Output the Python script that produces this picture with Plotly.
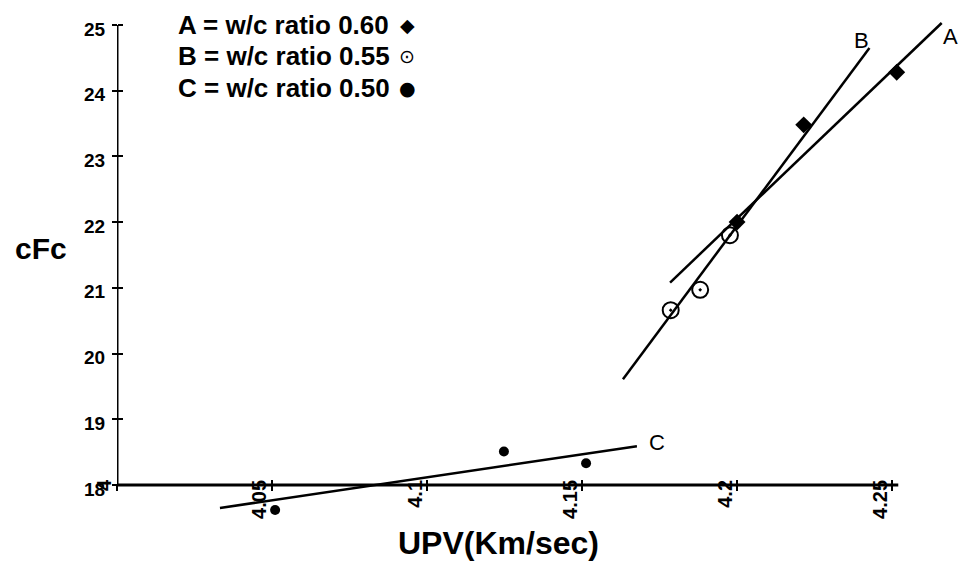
import plotly.graph_objects as go

# ---------------- data ----------------
A_x = [4.2000, 4.2215, 4.2515]
A_y = [22.00, 23.48, 24.28]
B_x = [4.1786, 4.1881, 4.1977]
B_y = [20.66, 20.97, 21.80]
C_x = [4.0510, 4.1248, 4.1513]
C_y = [17.62, 18.51, 18.33]

# hand-drawn fit lines (end points)
lineA_x = [4.1784, 4.2660]
lineA_y = [21.08, 25.03]
lineB_x = [4.1632, 4.2427]
lineB_y = [19.61, 24.65]
lineC_x = [4.0332, 4.1677]
lineC_y = [17.65, 18.59]

line_labels = ["A", "B", "C"]
line_label_x = [4.2687, 4.2402, 4.1742]
line_label_y = [24.82, 24.77, 18.65]

x_tick_vals = [4, 4.05, 4.1, 4.15, 4.2, 4.25]
x_tick_text = ["4", "4.05", "4.1", "4.15", "4.2", "4.25"]
y_tick_vals = [18, 19, 20, 21, 22, 23, 24, 25]
y_tick_text = ["18", "19", "20", "21", "22", "23", "24", "25"]

legend_text = ["A = w/c ratio 0.60", "B = w/c ratio 0.55", "C = w/c ratio 0.50"]
legend_symbols = ["\u25c6", "\u2299", "\u25cf"]

X_RANGE = [4.0, 4.2732]
Y_RANGE = [16.828, 25.380]
X_AXIS_AT = 18
X_AXIS_END = 4.252
Y_AXIS_TOP = 25

FONT = "Liberation Sans, Arial, sans-serif"

fig = go.Figure()

line_style = dict(color="black", width=2.5)
for lx, ly in [(lineA_x, lineA_y), (lineB_x, lineB_y), (lineC_x, lineC_y)]:
    fig.add_trace(go.Scatter(x=lx, y=ly, mode="lines", line=line_style,
                             showlegend=False, hoverinfo="skip"))

fig.add_trace(go.Scatter(x=A_x, y=A_y, mode="markers", showlegend=False,
                         marker=dict(symbol="diamond", size=13, color="black"),
                         cliponaxis=False))
fig.add_trace(go.Scatter(x=B_x, y=B_y, mode="markers", showlegend=False,
                         marker=dict(symbol="circle-open-dot", size=16, color="black",
                                     line=dict(width=2, color="black")),
                         cliponaxis=False))
fig.add_trace(go.Scatter(x=C_x, y=C_y, mode="markers", showlegend=False,
                         marker=dict(symbol="circle", size=10, color="black"),
                         cliponaxis=False))

# invisible trace to activate overlay axes (for crossing ticks)
fig.add_trace(go.Scatter(x=[], y=[], xaxis="x2", yaxis="y2", showlegend=False))

x_pos = (X_AXIS_AT - Y_RANGE[0]) / (Y_RANGE[1] - Y_RANGE[0])

fig.update_layout(
    width=964, height=562,
    margin=dict(l=117, r=0, t=0, b=0),
    paper_bgcolor="white", plot_bgcolor="white",
    xaxis=dict(range=X_RANGE, anchor="free", position=x_pos,
               showgrid=False, zeroline=False, showline=False,
               tickmode="array", tickvals=x_tick_vals, ticktext=x_tick_text,
               ticks="outside", ticklen=5, tickwidth=2, tickcolor="black",
               tickangle=-90, ticklabelstandoff=-19, ticklabelshift=-12,
               tickfont=dict(family=FONT, size=20, color="black", weight="bold")),
    yaxis=dict(range=Y_RANGE, anchor="free", position=0,
               showgrid=False, zeroline=False, showline=False,
               tickmode="array", tickvals=y_tick_vals, ticktext=y_tick_text,
               ticks="outside", ticklen=5, tickwidth=2, tickcolor="black",
               ticklabelstandoff=3, ticklabelshift=4,
               tickfont=dict(family=FONT, size=19, color="black", weight="bold")),
    xaxis2=dict(overlaying="x", matches="x", anchor="free", position=x_pos,
                showgrid=False, zeroline=False, showline=False,
                tickmode="array", tickvals=x_tick_vals,
                ticks="inside", ticklen=5, tickwidth=2, tickcolor="black",
                showticklabels=False),
    yaxis2=dict(overlaying="y", matches="y", anchor="free", position=0,
                showgrid=False, zeroline=False, showline=False,
                tickmode="array", tickvals=y_tick_vals,
                ticks="inside", ticklen=5, tickwidth=2, tickcolor="black",
                showticklabels=False),
    showlegend=False,
)

# axis lines
fig.add_shape(type="line", xref="x", yref="y", x0=X_RANGE[0], x1=X_AXIS_END,
              y0=X_AXIS_AT, y1=X_AXIS_AT, line=dict(color="black", width=3))
fig.add_shape(type="line", xref="x", yref="y", x0=X_RANGE[0], x1=X_RANGE[0],
              y0=X_AXIS_AT, y1=Y_AXIS_TOP, line=dict(color="black", width=3))

# axis titles
fig.add_annotation(text="UPV(Km/sec)", xref="paper", yref="paper",
                   x=(498 - 117) / 847, y=1 - 543 / 562, xanchor="center", yanchor="middle",
                   showarrow=False, font=dict(family=FONT, size=32, color="black", weight="bold"))
fig.add_annotation(text="cFc", xref="paper", yref="paper",
                   x=(41 - 117) / 847, y=1 - 248 / 562, xanchor="center", yanchor="middle",
                   showarrow=False, font=dict(family=FONT, size=30, color="black", weight="bold"))

# legend block (text + symbol)
legend_rows_y = [24.5, 56, 88]
for txt, sym, py in zip(legend_text, legend_symbols, legend_rows_y):
    fig.add_annotation(text=txt, xref="paper", yref="paper",
                       x=(176 - 117) / 847, y=1 - py / 562, xanchor="left", yanchor="middle",
                       showarrow=False, font=dict(family=FONT, size=26, color="black", weight="bold"))
    fig.add_annotation(text=sym, xref="paper", yref="paper",
                       x=(407 - 117) / 847, y=1 - py / 562, xanchor="center", yanchor="middle",
                       showarrow=False, font=dict(family="DejaVu Sans", size=19, color="black"))

# line labels
for lab, lx, ly in zip(line_labels, line_label_x, line_label_y):
    fig.add_annotation(text=lab, x=lx, y=ly, xref="x", yref="y", showarrow=False,
                       font=dict(family=FONT, size=22, color="black"))

fig.write_html("out.html")
